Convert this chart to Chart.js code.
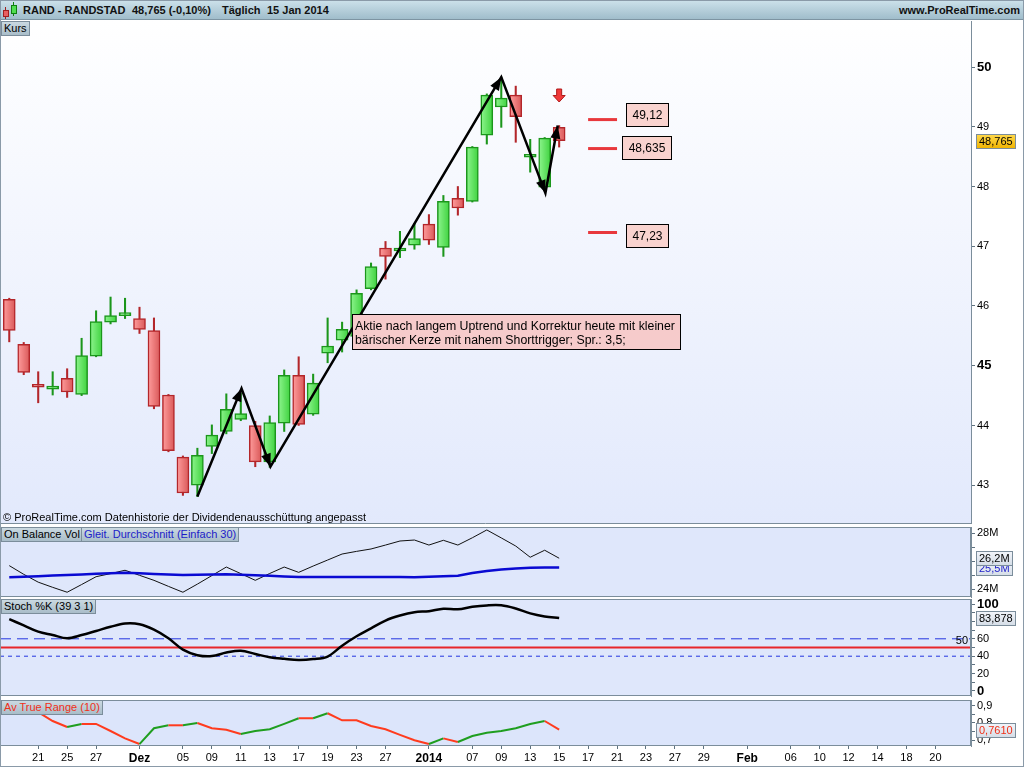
<!DOCTYPE html>
<html lang="de"><head><meta charset="utf-8"><title>RAND - RANDSTAD</title>
<script src="https://cdn.jsdelivr.net/npm/chart.js@4.4.1/dist/chart.umd.min.js"></script>
<style>
html,body{margin:0;padding:0;background:#fff;}
#wrap{position:relative;width:1024px;height:768px;overflow:hidden;background:#fff;font-family:"Liberation Sans",Arial,sans-serif;}
canvas.cv{position:absolute;left:0;}
#hdr{position:absolute;left:0;top:0;width:1024px;height:20px;box-sizing:border-box;background:linear-gradient(#cde2eb,#a0bdcb);border-bottom:1px solid #7d94a2;z-index:3}
#hdr span{position:absolute;top:3px;font-weight:bold;font-size:11px;line-height:14px;color:#111;white-space:pre}
#hdr i{position:absolute;display:block;box-sizing:border-box}
.lbl{position:absolute;z-index:3;height:13px;line-height:13px;font-size:11px;padding:0 2px;background:linear-gradient(#cad9e1,#a9bdc9);border:1px solid #7b8d9b;color:#000;white-space:nowrap}
.copy{position:absolute;z-index:3;left:3px;top:511px;font-size:11px;line-height:13px;color:#000;white-space:nowrap}
#frame{position:absolute;left:0;top:0;width:1024px;height:767px;box-sizing:border-box;border:1px solid #8a9aa8;pointer-events:none;z-index:5}
</style></head>
<body>
<div id="wrap">
  <canvas id="cMain" class="cv" style="top:21px" width="1024" height="504"></canvas>
  <canvas id="cObv" class="cv" style="top:525px" width="1024" height="74"></canvas>
  <canvas id="cSto" class="cv" style="top:597px" width="1024" height="102"></canvas>
  <canvas id="cAtr" class="cv" style="top:698px" width="1024" height="70"></canvas>
  <div id="hdr">
    <i style="left:5px;top:7px;width:1px;height:12px;background:#a02020"></i>
    <i style="left:3px;top:10px;width:6px;height:7px;background:#e86060;border:1px solid #a02020"></i>
    <i style="left:13px;top:2px;width:1px;height:14px;background:#108010"></i>
    <i style="left:11px;top:5px;width:6px;height:9px;background:#50dd50;border:1px solid #108010"></i>
    <span style="left:23px">RAND - RANDSTAD</span>
    <span style="left:132px">48,765 (-0,10%)</span>
    <span style="left:222px">Täglich</span>
    <span style="left:267px">15 Jan 2014</span>
    <span style="right:4px">www.ProRealTime.com</span>
  </div>
  <div class="lbl" style="left:1px;top:21px">Kurs</div>
  <div class="copy">© ProRealTime.com Datenhistorie der Dividendenausschüttung angepasst</div>
  <div class="lbl" style="left:1px;top:527px">On Balance Vol</div>
  <div class="lbl" style="left:81px;top:527px;color:#1c1cc8">Gleit. Durchschnitt (Einfach 30)</div>
  <div class="lbl" style="left:1px;top:599px">Stoch %K (39 3 1)</div>
  <div class="lbl" style="left:1px;top:700px;color:#f03018">Av True Range (10)</div>
  <div id="frame"></div>
</div>
<script>
// ---------- data ----------
const dates = ['19.11.2013','20.11.2013','21.11.2013','22.11.2013','25.11.2013','26.11.2013','27.11.2013','28.11.2013','29.11.2013',
 '02.12.2013','03.12.2013','04.12.2013','05.12.2013','06.12.2013','09.12.2013','10.12.2013','11.12.2013','12.12.2013','13.12.2013',
 '16.12.2013','17.12.2013','18.12.2013','19.12.2013','20.12.2013','23.12.2013','24.12.2013','27.12.2013','30.12.2013','31.12.2013',
 '02.01.2014','03.01.2014','06.01.2014','07.01.2014','08.01.2014','09.01.2014','10.01.2014','13.01.2014','14.01.2014','15.01.2014'];
const open  = [46.11,45.36,44.67,44.61,44.79,44.52,45.16,45.73,45.84,45.79,45.59,44.51,43.47,43.00,43.65,43.90,44.10,44.00,43.39,44.04,44.84,44.19,45.21,45.43,45.49,46.29,46.97,46.92,47.02,47.37,46.98,47.80,47.75,48.86,49.33,49.53,48.49,47.99,48.99];
const high  = [46.13,45.39,44.90,44.90,44.95,45.46,45.92,46.15,46.13,45.98,45.80,44.52,43.49,43.62,44.01,44.53,44.54,44.07,44.16,44.93,45.15,44.86,45.80,45.73,46.27,46.72,47.08,47.25,47.38,47.53,47.85,48.00,48.67,49.55,49.83,49.68,48.79,48.82,49.02];
const low   = [45.40,44.85,44.38,44.51,44.47,44.50,45.15,45.70,45.79,45.54,44.28,43.56,42.83,42.81,43.53,43.86,44.08,43.31,43.30,43.90,44.00,44.17,45.05,45.23,45.47,46.27,46.45,46.81,46.95,47.03,46.83,47.52,47.74,48.71,48.99,48.74,48.24,47.98,48.66];
const close = [45.59,44.89,44.64,44.62,44.56,45.17,45.74,45.84,45.85,45.61,44.32,43.58,42.87,43.50,43.84,44.27,44.20,43.39,44.05,44.84,44.02,44.71,45.33,45.61,46.21,46.66,46.83,46.95,47.13,47.10,47.75,47.64,48.66,49.53,49.48,49.17,48.54,48.81,48.765];
const obv    = [25.69,25.07,24.51,24.14,23.79,24.34,24.90,25.12,25.36,25.00,24.64,24.21,23.79,24.37,24.98,25.59,25.12,24.64,25.13,25.59,25.21,25.66,26.09,26.52,26.71,26.88,27.16,27.45,27.52,27.16,27.50,27.16,27.68,28.24,27.67,27.09,26.29,26.79,26.22];
const obvSma = [24.86,24.89,24.94,24.98,25.02,25.06,25.11,25.15,25.19,25.14,25.10,25.06,25.02,25.04,25.05,25.07,25.04,25.00,24.96,24.92,24.88,24.87,24.87,24.87,24.87,24.87,24.87,24.87,24.86,24.89,24.93,24.97,25.16,25.31,25.41,25.49,25.54,25.55,25.55];
const stochK = [82.7,75.4,68.2,64.4,60.6,64.3,69.0,73.8,77.5,76.7,70.5,60.6,47.5,41.2,40.1,44.2,46.3,42.5,38.8,37.0,35.7,36.7,39.6,52.1,62.9,72.0,81.0,86.7,90.5,91.8,94.6,94.0,96.8,98.4,98.5,94.8,89.2,85.7,83.878];
const atr    = [0.93,0.90,0.862,0.811,0.776,0.794,0.794,0.753,0.710,0.677,0.769,0.786,0.786,0.799,0.769,0.760,0.735,0.753,0.763,0.794,0.827,0.827,0.856,0.815,0.815,0.782,0.763,0.730,0.699,0.677,0.710,0.689,0.724,0.743,0.753,0.769,0.794,0.811,0.761];

const xTickIdx    = [2,4,6,9,12,14,16,18,20,22,24,26,29,32,34,36,38,40,42,44,46,48,51,54,56,58,60,62,64];
const xTickLabels = ['21','25','27','Dez','05','09','11','13','17','19','23','27','2014','07','09','13','15','17','21','23','27','29','Feb','06','10','12','14','18','20'];
const priceTicks = [43,44,45,46,47,48,49,50];
const obvTicks   = [24,25,26,27,28];
const stochTicks = [0,10,20,30,40,50,60,70,80,90,100];
const atrTicks   = [0.7,0.75,0.8,0.85,0.9];

// drawn annotations (data space)
const trendX = [13, 16.05, 18.05, 34, 37.05, 37.9];
const trendY = [42.81, 44.62, 43.31, 49.83, 47.89, 49.02];
const levels     = [49.12, 48.635, 47.23];
const levelTexts = ['49,12', '48,635', '47,23'];
const levelFrom = 40, levelTo = 42;
const levelBoxX = 44.07;
const levelBoxY = [49.197, 48.649, 47.172];
const signalAt = {x: 38, y: 49.523};
const noteLines = ['Aktie nach langem Uptrend und Korrektur heute mit kleiner', 'bärischer Kerze mit nahem Shorttrigger; Spr.: 3,5;'];
const noteAt = {x: 23.71, y: 45.861};

// ---------- helpers ----------
const XMIN = -0.64, XMAX = 66.46;
const FF = '"Liberation Sans", Arial, sans-serif';
const AX = '#7b8d9b';
Chart.defaults.font.family = FF;
Chart.defaults.animation = false;
const fin = v => typeof v === 'number' && isFinite(v);

function xScale(show){
  if(!show) return {type:'linear', min:XMIN, max:XMAX, display:false, offset:false, bounds:'data'};
  return {type:'linear', min:XMIN, max:XMAX, display:true, offset:false, bounds:'data',
    afterBuildTicks: s => { s.ticks = xTickIdx.map(v => ({value:v})); },
    afterFit: s => { s.height = 22; s.paddingLeft = 0; s.paddingRight = 0; },
    grid:{display:true, drawOnChartArea:false, drawTicks:true, tickLength:3, tickColor:'#5f7280'},
    border:{display:false},
    ticks:{autoSkip:false, maxRotation:0, padding:2, color:'#000',
      callback:(v,i) => xTickLabels[i],
      font: c => (['Dez','2014','Feb'].includes(xTickLabels[c.index]) ? {family:FF,size:12,weight:'bold'} : {family:FF,size:11})}
  };
}
function yScale(min,max,ticks,label,isBold){
  return {type:'linear', position:'right', min, max, bounds:'data',
    afterBuildTicks: s => { s.ticks = ticks.map(v => ({value:v})); },
    afterFit: s => { s.width = 53; s.paddingTop = 0; s.paddingBottom = 0; },
    grid:{drawOnChartArea:false, drawTicks:true, tickLength:4, tickColor:'#5f7280'},
    border:{display:true, color:AX},
    ticks:{autoSkip:false, padding:2, color:'#000', callback: v => label(v),
      font: c => (isBold && c.tick && isBold(c.tick.value)) ? {family:FF,size:13,weight:'bold'} : {family:FF,size:11}}
  };
}
function valueBoxes(list){
  return {id:'vbox', afterDraw(chart){
    const ctx = chart.ctx, ys = chart.scales.y;
    ctx.save();
    ctx.font = '11px ' + FF; ctx.textBaseline = 'middle';
    list.forEach(b => {
      const cy = Math.round(ys.getPixelForValue(b.v));
      if (!fin(cy)) return;
      const w = Math.ceil(ctx.measureText(b.text).width) + 5, h = 14;
      const x0 = 976.5, y0 = cy - 7 + 0.5;
      const g = ctx.createLinearGradient(0,y0,0,y0+h);
      if (b.gold){ g.addColorStop(0,'#ffd84a'); g.addColorStop(1,'#f0b400'); }
      else { g.addColorStop(0,'#f2f5fa'); g.addColorStop(1,'#d5dde7'); }
      ctx.fillStyle = g;
      ctx.fillRect(x0, y0, w, h);
      ctx.strokeStyle = AX; ctx.lineWidth = 1; ctx.strokeRect(x0, y0, w, h);
      ctx.fillStyle = b.color; ctx.fillText(b.text, x0 + 2.5, cy + 0.5);
    });
    ctx.restore();
  }};
}
function panelBg(color){
  return {id:'pbg', beforeDraw(chart){
    const {ctx, chartArea:a} = chart; ctx.save(); ctx.fillStyle = color;
    ctx.fillRect(a.left, a.top, a.right-a.left, a.bottom-a.top); ctx.restore();
  }, afterDraw(chart){
    const {ctx, chartArea:a} = chart; ctx.save(); ctx.strokeStyle = AX; ctx.lineWidth = 1;
    ctx.strokeRect(a.left+0.5, a.top+0.5, a.right-a.left-1, a.bottom-a.top-1); ctx.restore();
  }};
}
function arrowHead(ctx,x0,y0,x1,y1,len,half){
  const a = Math.atan2(y1-y0, x1-x0), c = Math.cos(a), s = Math.sin(a);
  ctx.beginPath(); ctx.moveTo(x1,y1);
  ctx.lineTo(x1-len*c+half*s, y1-len*s-half*c);
  ctx.lineTo(x1-len*c-half*s, y1-len*s+half*c);
  ctx.closePath(); ctx.fill();
}
const baseOpts = (scales, pad) => ({responsive:false, animation:false, events:[],
  layout:{padding:pad, autoPadding:false},
  plugins:{legend:{display:false}, tooltip:{enabled:false}}, scales});

// ---------- main price chart ----------
const isUp = i => close[i] >= open[i];
const RED_B = '#b3262a', GRN_B = '#1b961b';
const mainDecor = {id:'mainDecor',
  beforeDraw(chart){
    const {ctx, chartArea:a} = chart;
    const g = ctx.createLinearGradient(0,a.top,0,a.bottom);
    g.addColorStop(0,'#ffffff'); g.addColorStop(1,'#e2e9fc');
    ctx.save(); ctx.fillStyle = g; ctx.fillRect(a.left,a.top,a.right-a.left,a.bottom-a.top); ctx.restore();
  },
  afterDatasetsDraw(chart){
    const {ctx, scales:{x,y}} = chart;
    ctx.save();
    const meta = chart.getDatasetMeta(chart.data.datasets.length-1);
    ctx.fillStyle = '#000';
    for (let j=1;j<meta.data.length;j++){ const p=meta.data[j-1], q=meta.data[j]; arrowHead(ctx,p.x,p.y,q.x,q.y,13,5); }
    const sx = x.getPixelForValue(signalAt.x), sy = y.getPixelForValue(signalAt.y);
    ctx.beginPath();
    ctx.moveTo(sx-2.5, sy-6.5); ctx.lineTo(sx+2.5, sy-6.5); ctx.lineTo(sx+2.5, sy); ctx.lineTo(sx+6, sy);
    ctx.lineTo(sx, sy+6.5); ctx.lineTo(sx-6, sy); ctx.lineTo(sx-2.5, sy); ctx.closePath();
    ctx.fillStyle = '#f03a3a'; ctx.fill(); ctx.strokeStyle = '#b01818'; ctx.lineWidth = 1; ctx.stroke();
    ctx.font = '12px ' + FF; ctx.textAlign = 'center'; ctx.textBaseline = 'middle';
    levelTexts.forEach((t,k) => {
      const cx = x.getPixelForValue(levelBoxX), cy = y.getPixelForValue(levelBoxY[k]);
      const w = Math.round(ctx.measureText(t).width + 12), h = 23;
      const x0 = Math.round(cx - w/2) + 0.5, y0 = Math.round(cy - h/2) + 0.5;
      ctx.fillStyle = '#f9d3cf'; ctx.fillRect(x0, y0, w, h);
      ctx.strokeStyle = '#000'; ctx.strokeRect(x0, y0, w, h);
      ctx.fillStyle = '#000'; ctx.fillText(t, x0 + w/2, y0 + h/2 + 1);
    });
    ctx.font = '12.3px ' + FF; ctx.textAlign = 'left'; ctx.textBaseline = 'alphabetic';
    const nx = Math.round(x.getPixelForValue(noteAt.x)) + 0.5, ny = Math.round(y.getPixelForValue(noteAt.y)) + 0.5;
    const nw = Math.round(Math.max(...noteLines.map(l => ctx.measureText(l).width)) + 8), nh = 35;
    ctx.fillStyle = '#f6cbcb'; ctx.fillRect(nx, ny, nw, nh);
    ctx.strokeStyle = '#000'; ctx.strokeRect(nx, ny, nw, nh);
    ctx.fillStyle = '#000';
    noteLines.forEach((l,k) => ctx.fillText(l, nx + 2.5, ny + 15 + k*14.5));
    ctx.restore();
  },
  afterDraw(chart){
    const {ctx, chartArea:a} = chart;
    ctx.save(); ctx.strokeStyle = AX; ctx.lineWidth = 1;
    ctx.beginPath(); ctx.moveTo(a.left, a.bottom+0.5); ctx.lineTo(a.right, a.bottom+0.5); ctx.stroke(); ctx.restore();
  }
};

const bodyFill = c => {
  const i = c.dataIndex;
  if (c.type !== 'data' || i === undefined) return '#e06060';
  const up = isUp(i);
  const flat = up ? '#5fe05f' : '#f07878';
  const xs = c.chart.scales && c.chart.scales.x;
  if (!xs) return flat;
  const px = xs.getPixelForValue(i);
  if (!fin(px)) return flat;
  const g = c.chart.ctx.createLinearGradient(px-6,0,px+6,0);
  if (up){ g.addColorStop(0,'#8ef58e'); g.addColorStop(1,'#3fd23f'); }
  else { g.addColorStop(0,'#ff9d9d'); g.addColorStop(1,'#d95858'); }
  return g;
};

const mainDatasets = [
  {type:'bar', data: open.map((_,i) => ({x:i, y:[low[i], high[i]]})), grouped:false, barThickness:1.4,
   backgroundColor: open.map((_,i) => isUp(i) ? GRN_B : RED_B), borderWidth:0, order:3},
  {type:'bar', data: open.map((_,i) => ({x:i, y:[open[i], close[i]]})), grouped:false, barThickness:12, minBarLength:3,
   backgroundColor: bodyFill, borderColor: open.map((_,i) => isUp(i) ? GRN_B : RED_B), borderWidth:1.5, borderSkipped:false, order:2},
  ...levels.map(L => ({type:'line', data:[{x:levelFrom,y:L},{x:levelTo,y:L}], borderColor:'#e8383c', borderWidth:3, pointRadius:0, order:1})),
  {type:'line', data: trendX.map((v,i) => ({x:v, y:trendY[i]})), borderColor:'#000', borderWidth:2.5, pointRadius:0, tension:0, order:0}
];

function safeChart(id, cfg){ try { return new Chart(document.getElementById(id), cfg); } catch(e){ console.error(id, e); } }

safeChart('cMain', {
  type:'bar',
  data:{labels: dates, datasets: mainDatasets},
  options: baseOpts({
    x: xScale(false),
    y: yScale(42.368, 50.770, priceTicks, v => String(v), v => v===45 || v===50)
  }, {top:0, bottom:2, left:0, right:0}),
  plugins:[mainDecor, valueBoxes([{v:48.765, text:'48,765', color:'#000', gold:true}])]
});

safeChart('cObv', {
  type:'line',
  data:{datasets:[
    {data: obvSma.map((v,i) => ({x:i,y:v})), borderColor:'#0a0ad2', borderWidth:2.5, pointRadius:0, tension:0},
    {data: obv.map((v,i) => ({x:i,y:v})), borderColor:'#111', borderWidth:1, pointRadius:0, tension:0}
  ]},
  options: baseOpts({
    x: xScale(false),
    y: yScale(23.45, 28.45, obvTicks, v => (v===24 ? '24M' : v===28 ? '28M' : ''), null)
  }, {top:2, bottom:2, left:0, right:0}),
  plugins:[panelBg('#dfe7fb'), valueBoxes([
    {v:25.55, text:'25,5M', color:'#1c1cc8'},
    {v:26.22, text:'26,2M', color:'#000'}
  ])]
});

const stoDecor = {id:'stoDecor', afterDatasetsDraw(chart){
  const {ctx, chartArea:a, scales:{y}} = chart;
  ctx.save(); ctx.font = '11px ' + FF; ctx.fillStyle = '#000'; ctx.textAlign = 'right'; ctx.textBaseline = 'bottom';
  ctx.fillText('50', a.right - 3, y.getPixelForValue(50) - 1); ctx.restore();
}};
safeChart('cSto', {
  type:'line',
  data:{datasets:[
    {data: stochK.map((v,i) => ({x:i,y:v})), borderColor:'#000', borderWidth:2.5, pointRadius:0, tension:0.35, order:0},
    {data:[{x:XMIN,y:50},{x:XMAX,y:50}], borderColor:'#e8262a', borderWidth:2, pointRadius:0, order:1},
    {data:[{x:XMIN,y:60},{x:XMAX,y:60}], borderColor:'#2436e0', borderWidth:1, borderDash:[11,6], pointRadius:0, order:2},
    {data:[{x:XMIN,y:40},{x:XMAX,y:40}], borderColor:'#2436e0', borderWidth:1, borderDash:[4,4], pointRadius:0, order:3}
  ]},
  options: baseOpts({
    x: xScale(false),
    y: yScale(-5.75, 105.75, stochTicks, v => (v % 20 === 0 ? String(v) : ''), v => v===0 || v===100)
  }, {top:2, bottom:3, left:0, right:0}),
  plugins:[panelBg('#dfe7fb'), stoDecor, valueBoxes([{v:83.878, text:'83,878', color:'#000'}])]
});

safeChart('cAtr', {
  type:'line',
  data:{datasets:[
    {data: atr.map((v,i) => ({x:i,y:v})), borderColor:'#ff3b1e', borderWidth:2, pointRadius:0, tension:0,
     segment:{borderColor: c => c.p1.parsed.y > c.p0.parsed.y ? '#1f9e1f' : '#ff3b1e'}}
  ]},
  options: baseOpts({
    x: xScale(true),
    y: yScale(0.6657, 0.933, atrTicks, v => (Math.abs(v*10 - Math.round(v*10)) < 1e-6 ? v.toFixed(1).replace('.',',') : ''), null)
  }, {top:2, bottom:0, left:0, right:0}),
  plugins:[panelBg('#dce5fb'), valueBoxes([{v:0.761, text:'0,7610', color:'#f03018'}])]
});
</script>
</body></html>
